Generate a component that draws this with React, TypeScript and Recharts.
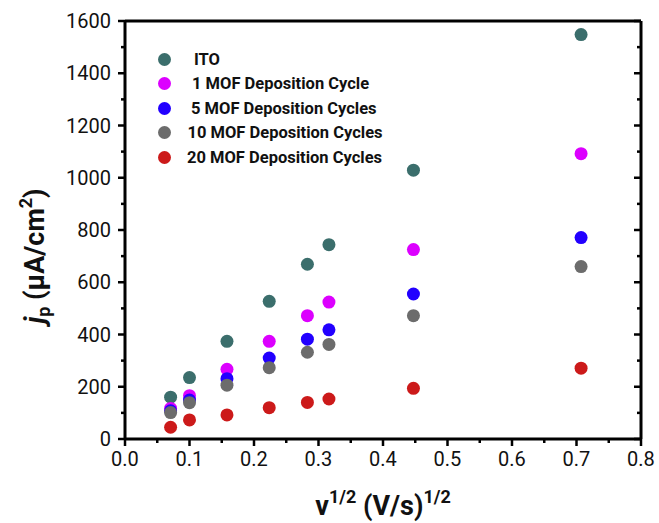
import React from "react";
import {
  ScatterChart,
  Scatter,
  XAxis,
  YAxis,
  Legend,
} from "recharts";

// scan rate^(1/2) for 5, 10, 25, 50, 80, 100, 200, 500 mV/s
const sqrtScanRate = [0.0707, 0.1, 0.1581, 0.2236, 0.2828, 0.3162, 0.4472, 0.7071];

const ito = [160, 235, 374, 527, 669, 744, 1029, 1548];
const mof1 = [117, 166, 267, 374, 472, 524, 725, 1092];
const mof5 = [108, 149, 231, 310, 382, 418, 555, 771];
const mof10 = [101, 139, 206, 273, 332, 362, 472, 660];
const mof20 = [45, 73, 92, 120, 140, 153, 194, 271];

const xTicks = [0, 0.05, 0.1, 0.15, 0.2, 0.25, 0.3, 0.35, 0.4, 0.45, 0.5, 0.55, 0.6, 0.65, 0.7, 0.75, 0.8];
const yTicks = [0, 100, 200, 300, 400, 500, 600, 700, 800, 900, 1000, 1100, 1200, 1300, 1400, 1500, 1600];

const series = [
  { name: "ITO", values: ito, color: "#3b6e6c", indent: 7 },
  { name: "1 MOF Deposition Cycle", values: mof1, color: "#dc00ff", indent: 5 },
  { name: "5 MOF Deposition Cycles", values: mof5, color: "#2200ff", indent: 4 },
  { name: "10 MOF Deposition Cycles", values: mof10, color: "#6c6c6c", indent: 0.5 },
  { name: "20 MOF Deposition Cycles", values: mof20, color: "#cc1a1a", indent: 0 },
];

const FONT = "Roboto, sans-serif";
const isMajorX = (v: number) => Math.round(v * 100) % 10 === 0;
const isMajorY = (v: number) => Math.round(v) % 200 === 0;

const BottomTick = ({ x, y, payload }: any) => {
  const major = isMajorX(payload.value);
  return (
    <g>
      <line x1={x} x2={x} y1={y} y2={y + (major ? 7 : 4)} stroke="#000" strokeWidth={2.5} />
      {major && (
        <text x={x} y={y + 27} textAnchor="middle" fontSize={20} fontFamily={FONT} fill="#111">
          {payload.value.toFixed(1)}
        </text>
      )}
    </g>
  );
};

const TopTick = ({ x, y, payload }: any) => {
  const major = isMajorX(payload.value);
  return <line x1={x} x2={x} y1={y} y2={y + (major ? 7 : 4)} stroke="#000" strokeWidth={2.5} />;
};

const LeftTick = ({ x, y, payload }: any) => {
  const major = isMajorY(payload.value);
  return (
    <g>
      <line x1={x} x2={x - (major ? 7 : 4)} y1={y} y2={y} stroke="#000" strokeWidth={2.5} />
      {major && (
        <text x={x - 14} y={y} dy="0.36em" textAnchor="end" fontSize={20} fontFamily={FONT} fill="#111">
          {payload.value}
        </text>
      )}
    </g>
  );
};

const RightTick = ({ x, y, payload }: any) => {
  const major = isMajorY(payload.value);
  return <line x1={x} x2={x - (major ? 7 : 4)} y1={y} y2={y} stroke="#000" strokeWidth={2.5} />;
};

const XLabel = ({ viewBox }: any) => {
  const cx = viewBox.x + viewBox.width / 2;
  return (
    <text x={cx} y={viewBox.y + 76} textAnchor="middle" fontFamily={FONT} fontWeight="bold" fontSize={27} fill="#111">
      <tspan>ν</tspan>
      <tspan fontSize={18} dy={-12}>1/2</tspan>
      <tspan dy={12}> (V/s)</tspan>
      <tspan fontSize={18} dy={-12}>1/2</tspan>
    </text>
  );
};

const YLabel = ({ viewBox }: any) => {
  const cx = viewBox.x + 44;
  const cy = viewBox.y + viewBox.height / 2 + 26;
  return (
    <text
      x={cx}
      y={cy}
      transform={`rotate(-90, ${cx}, ${cy})`}
      textAnchor="middle"
      fontFamily={FONT}
      fontWeight="bold"
      fontSize={27}
      fill="#111"
    >
      <tspan fontStyle="italic">j</tspan>
      <tspan fontSize={18} dy={6}>p</tspan>
      <tspan dy={-6}> (μA/cm</tspan>
      <tspan fontSize={18} dy={-12}>2</tspan>
      <tspan dy={12}>)</tspan>
    </text>
  );
};

const LegendBox = () => (
  <div style={{ fontFamily: FONT, fontWeight: "bold", fontSize: 16.5, color: "#111" }}>
    {series.map((s) => (
      <div key={s.name} style={{ display: "flex", alignItems: "center", height: 24.5 }}>
        <span
          style={{
            display: "inline-block",
            width: 13,
            height: 13,
            borderRadius: "50%",
            background: s.color,
            marginRight: 16 + s.indent,
          }}
        />
        <span>{s.name}</span>
      </div>
    ))}
  </div>
);

const Dot = (color: string) => (props: any) =>
  <circle cx={props.cx} cy={props.cy} r={6.5} fill={color} />;

export default function App() {
  return (
    <div style={{ position: "absolute", left: 0, top: 0, background: "#fff" }}>
      <ScatterChart width={659} height={523} margin={{ top: 0, right: 0, bottom: 0, left: 0 }}>
        <XAxis
          dataKey="x"
          type="number"
          domain={[0, 0.8]}
          ticks={xTicks}
          interval={0}
          height={84}
          tickSize={0}
          tickMargin={0}
          tickLine={false}
          tick={<BottomTick />}
          axisLine={{ stroke: "#000", strokeWidth: 3 }}
          label={<XLabel />}
        />
        <XAxis
          xAxisId="top"
          orientation="top"
          type="number"
          domain={[0, 0.8]}
          allowDataOverflow
          ticks={xTicks}
          interval={0}
          height={21}
          tickSize={0}
          tickMargin={0}
          tickLine={false}
          tick={<TopTick />}
          axisLine={{ stroke: "#000", strokeWidth: 3 }}
        />
        <YAxis
          dataKey="y"
          type="number"
          domain={[0, 1600]}
          ticks={yTicks}
          interval={0}
          width={125}
          tickSize={0}
          tickMargin={0}
          tickLine={false}
          tick={<LeftTick />}
          axisLine={{ stroke: "#000", strokeWidth: 3 }}
          label={<YLabel />}
        />
        <YAxis
          yAxisId="right"
          orientation="right"
          type="number"
          domain={[0, 1600]}
          allowDataOverflow
          ticks={yTicks}
          interval={0}
          width={18}
          tickSize={0}
          tickMargin={0}
          tickLine={false}
          tick={<RightTick />}
          axisLine={{ stroke: "#000", strokeWidth: 3 }}
        />
        <Legend
          layout="vertical"
          align="center"
          verticalAlign="middle"
          content={<LegendBox />}
          wrapperStyle={{ left: 158, top: 47, width: "auto" }}
        />
        {series.map((s) => (
          <Scatter
            key={s.name}
            name={s.name}
            data={sqrtScanRate.map((x, i) => ({ x, y: s.values[i] }))}
            fill={s.color}
            shape={Dot(s.color)}
            isAnimationActive={false}
          />
        ))}
      </ScatterChart>
    </div>
  );
}
